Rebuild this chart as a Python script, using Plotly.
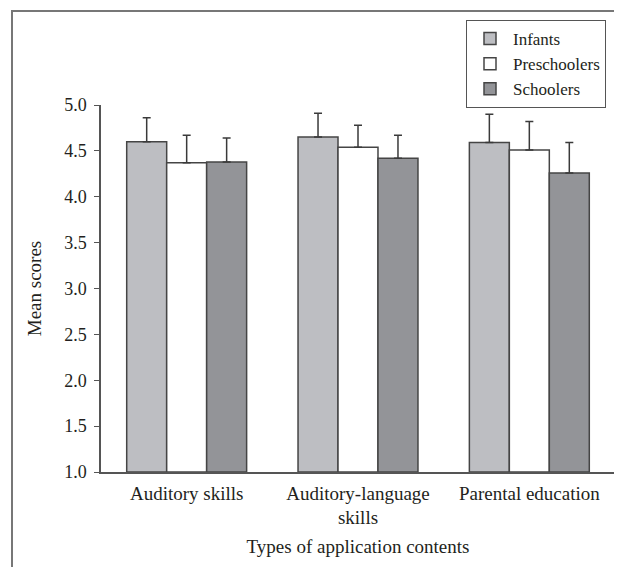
import plotly.graph_objects as go

categories = ["Auditory skills", "Auditory-language<br>skills", "Parental education"]
series_names = ["Infants", "Preschoolers", "Schoolers"]
infants = [4.60, 4.65, 4.59]
preschoolers = [4.37, 4.54, 4.51]
schoolers = [4.38, 4.42, 4.26]
infants_sd = [0.26, 0.26, 0.31]
preschoolers_sd = [0.30, 0.24, 0.31]
schoolers_sd = [0.26, 0.25, 0.33]
y_ticks = [1.0, 1.5, 2.0, 2.5, 3.0, 3.5, 4.0, 4.5, 5.0]

colors = ["#bdbec2", "#ffffff", "#939498"]
values = [infants, preschoolers, schoolers]
sds = [infants_sd, preschoolers_sd, schoolers_sd]

FONT = "Liberation Serif"
TXT = "#231f20"
AX = "#555555"

fig = go.Figure()
for name, vals, sd, col in zip(series_names, values, sds, colors):
    fig.add_trace(go.Bar(
        name=name, x=categories, y=[v - 1 for v in vals], base=1,
        marker=dict(color=col, line=dict(color="#454545", width=1.5)),
        error_y=dict(type="data", array=sd, arrayminus=[0] * len(sd), symmetric=False,
                     color="#3a3a3a", thickness=1.5, width=4),
    ))

W, H = 622, 567
L, R, T, B = 93, 15, 97, 103
pw, ph = W - L - R, H - T - B


def px_x(p):
    return (p - L) / pw


def px_y(p):
    return (H - B - p) / ph


# outer frame (left and top edges visible)
fig.add_shape(type="line", xref="paper", yref="paper",
              x0=px_x(4), x1=px_x(4), y0=px_y(570), y1=px_y(3),
              line=dict(color="#777777", width=2))
fig.add_shape(type="line", xref="paper", yref="paper",
              x0=px_x(3), x1=px_x(625), y0=px_y(3), y1=px_y(3),
              line=dict(color="#777777", width=2))

fig.update_layout(
    width=W, height=H,
    margin=dict(l=L, r=R, t=T, b=B, autoexpand=False),
    paper_bgcolor="white", plot_bgcolor="white",
    barmode="group", bargap=0.30, bargroupgap=0,
    font=dict(family=FONT, size=19, color=TXT),
    showlegend=True,
    legend=dict(x=px_x(458), y=px_y(12), xanchor="left", yanchor="top",
                bordercolor=AX, borderwidth=1, bgcolor="white",
                font=dict(family=FONT, size=17, color=TXT),
                tracegroupgap=0, itemwidth=36),
    xaxis=dict(showline=True, linecolor=AX, linewidth=1.5, ticks="",
               ticklabelstandoff=3,
               title=dict(text="Types of application contents", standoff=12,
                          font=dict(family=FONT, size=19, color=TXT)),
               tickfont=dict(family=FONT, size=19, color=TXT)),
    yaxis=dict(range=[1, 5], tickvals=y_ticks, tickformat=".1f",
               showline=True, linecolor=AX, linewidth=1.5,
               ticks="outside", ticklen=5, tickcolor=AX,
               ticklabelstandoff=4,
               showgrid=False, zeroline=False,
               title=dict(text="Mean scores", standoff=18,
                          font=dict(family=FONT, size=19, color=TXT)),
               tickfont=dict(family=FONT, size=18, color=TXT)),
)

fig.write_html("out.html")
